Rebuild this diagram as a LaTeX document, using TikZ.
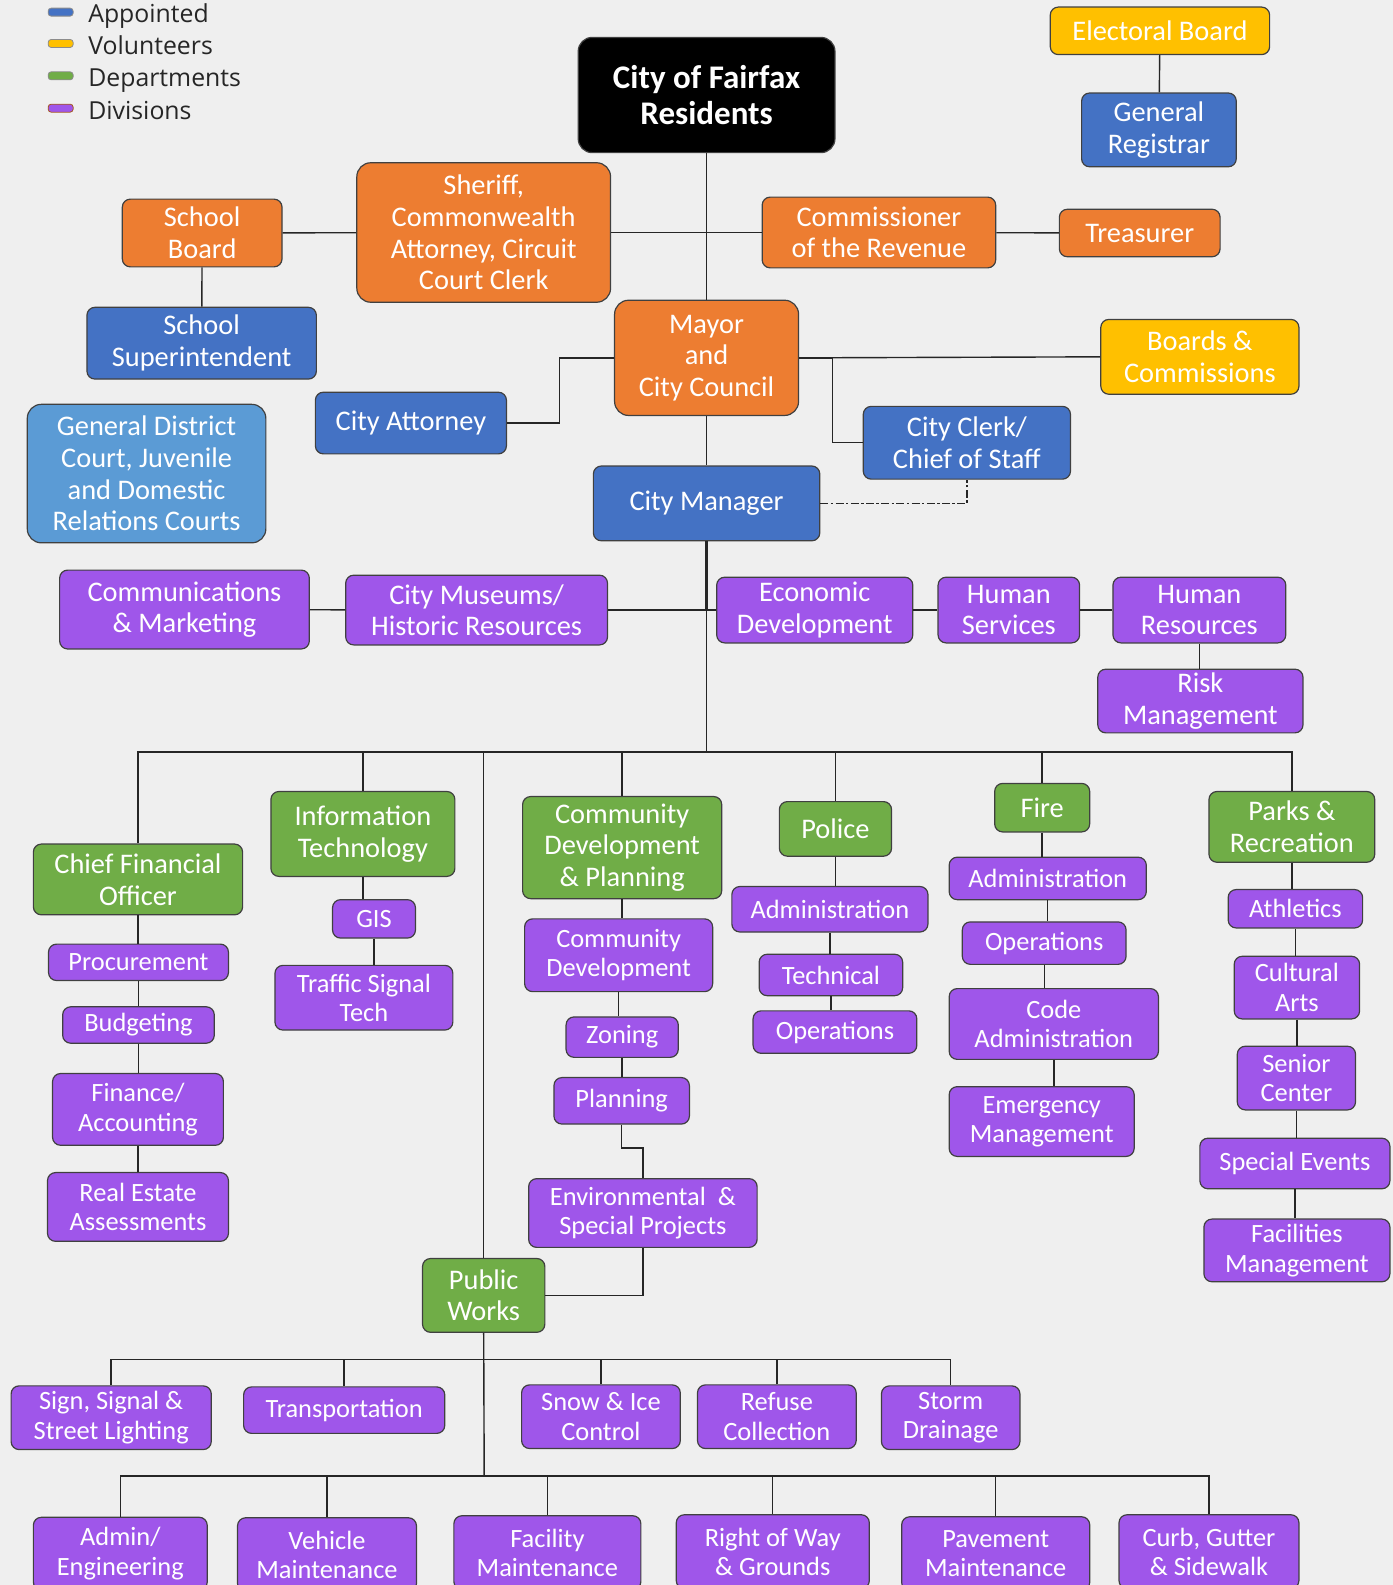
\documentclass[tikz,border=0pt]{standalone}
\usepackage{fontspec}
\setmainfont{Carlito}
\newfontfamily\legendfont{Open Sans}
\definecolor{bg}{HTML}{EFEFEF}
\definecolor{appointed}{HTML}{4472C4}
\definecolor{volunteer}{HTML}{FFC000}
\definecolor{dept}{HTML}{70AD47}
\definecolor{division}{HTML}{9F56EA}
\definecolor{elected}{HTML}{ED7D31}
\definecolor{court}{HTML}{5B9BD5}
\tikzset{
	box/.style={draw=black!75, line width=0.6pt, rounded corners=4pt, text=white, align=center, inner sep=0pt, font=\fontsize{14.2}{15.8}\selectfont},
	wh/.style 2 args={minimum width=#1*0.5054pt, minimum height=#2*0.5054pt},
	apptbox/.style={box, fill=appointed},
	volbox/.style={box, fill=volunteer},
	deptbox/.style={box, fill=dept},
	officebox/.style={box, fill=division},
	divbox/.style={box, fill=division, font=\fontsize{13.2}{14.7}\selectfont},
	elecbox/.style={box, fill=elected},
	courtbox/.style={box, fill=court},
	topbox/.style={box, fill=black, rounded corners=7pt, font=\fontsize{16.5}{18.2}\selectfont\bfseries},
	link/.style={draw=black!85, line width=0.7pt},
	legmark/.style={draw=black!45, line width=0.4pt, rounded corners=1.5pt, minimum width=12.5pt, minimum height=4pt, inner sep=0pt},
	legtext/.style={anchor=base west, inner sep=0pt, text=black!85, font=\legendfont\fontsize{12.4}{14}\selectfont},
}
\begin{document}
\begin{tikzpicture}[x=0.5054pt, y=-0.5054pt]
	\useasboundingbox[fill=bg] (0,0) rectangle (1378,1568);
	\clip (0,0) rectangle (1378,1568);

	\node[legmark, fill=appointed] (lgA) at (60,12) {};
	\node[legmark, fill=volunteer] (lgV) at (60,43) {};
	\node[legmark, fill=dept] (lgD) at (60,75) {};
	\node[legmark, fill=division, draw=elected!70!black] (lgP) at (60,107) {};
	\node[legtext] (lgAt) at (87,22) {Appointed};
	\node[legtext] (lgVt) at (87,54) {Volunteers};
	\node[legtext] (lgDt) at (87,86) {Departments};
	\node[legtext] (lgPt) at (87,118) {Divisions};

	\node[topbox, wh={254}{114}] (res) at (699,94) {City of Fairfax\\Residents};
	\node[volbox, wh={217}{47}] (elect) at (1147.5,30.5) {Electoral Board};
	\node[apptbox, wh={153}{73}] (genreg) at (1146.5,128.5) {General\\Registrar};
	\node[elecbox, wh={158}{67}] (schbd) at (200,230.5) {School\\Board};
	\node[elecbox, wh={251}{138}, rounded corners=7pt] (sheriff) at (478.5,230) {Sheriff,\\Commonwealth\\Attorney, Circuit\\Court Clerk};
	\node[elecbox, wh={231}{70}] (comrev) at (869.5,230) {Commissioner\\of the Revenue};
	\node[elecbox, wh={159}{47}] (treas) at (1127.5,230.5) {Treasurer};
	\node[apptbox, wh={227}{71}] (schsup) at (199.5,339.5) {School\\Superintendent};
	\node[elecbox, wh={182}{114}, rounded corners=7pt] (mayor) at (699,354) {Mayor\\and\\City Council};
	\node[volbox, wh={196}{74}] (boards) at (1187,353) {Boards \&\\Commissions};
	\node[apptbox, wh={189}{61}] (cityatt) at (406.5,418.5) {City Attorney};
	\node[apptbox, wh={205}{72}] (clerk) at (956.5,438) {City Clerk/\\Chief of Staff};
	\node[courtbox, wh={236}{137}, rounded corners=7pt] (courts) at (145,468.5) {General District\\Court, Juvenile\\and Domestic\\Relations Courts};
	\node[apptbox, wh={224}{74}] (mgr) at (699,498) {City Manager};

	\node[officebox, wh={247}{78}] (comms) at (182.5,603) {Communications\\\& Marketing};
	\node[officebox, wh={259}{69}] (museums) at (471.5,603.5) {City Museums/\\Historic Resources};
	\node[officebox, wh={194}{65}] (econ) at (806,603.5) {Economic\\Development};
	\node[officebox, wh={140}{65}] (humsvc) at (998,603.5) {Human\\Services};
	\node[officebox, wh={171}{65}] (humres) at (1186.5,603.5) {Human\\Resources};
	\node[officebox, wh={203}{63}] (risk) at (1187.5,693.5) {Risk\\Management};

	\node[deptbox, wh={207}{70}] (cfo) at (136.5,870) {Chief Financial\\Officer};
	\node[divbox, wh={178}{36}] (proc) at (137,952) {Procurement};
	\node[divbox, wh={150}{36}] (budg) at (137,1014) {Budgeting};
	\node[divbox, wh={169}{71}] (fin) at (136.5,1097.5) {Finance/\\Accounting};
	\node[divbox, wh={179}{68}] (realest) at (136.5,1194) {Real Estate\\Assessments};

	\node[deptbox, wh={182}{84}] (it) at (359,825) {Information\\Technology};
	\node[divbox, wh={82}{38}] (gis) at (370,909) {GIS};
	\node[divbox, wh={176}{64}] (traffic) at (360,987) {Traffic Signal\\Tech};

	\node[deptbox, wh={197}{101}] (cdp) at (615.5,838.5) {Community\\Development\\\& Planning};
	\node[divbox, wh={186}{72}] (comdev) at (612,945) {Community\\Development};
	\node[divbox, wh={111}{40}] (zoning) at (615.5,1026) {Zoning};
	\node[divbox, wh={134}{46}] (plan) at (615,1089) {Planning};
	\node[divbox, wh={226}{68}] (env) at (636,1200) {Environmental~~\&\\Special Projects};

	\node[deptbox, wh={111}{54}] (police) at (826.5,820) {Police};
	\node[divbox, wh={194}{45}] (padmin) at (821,899.5) {Administration};
	\node[divbox, wh={142}{41}] (tech) at (822,964.5) {Technical};
	\node[divbox, wh={162}{42}] (pops) at (826,1021) {Operations};

	\node[deptbox, wh={94}{48}] (fire) at (1031,799) {Fire};
	\node[divbox, wh={195}{42}] (fadmin) at (1036.5,869) {Administration};
	\node[divbox, wh={162}{42}] (fops) at (1033,933) {Operations};
	\node[divbox, wh={207}{70}] (code) at (1042.5,1013) {Code\\Administration};
	\node[divbox, wh={183}{69}] (emerg) at (1030.5,1109.5) {Emergency\\Management};

	\node[deptbox, wh={164}{70}] (parks) at (1278,818) {Parks \&\\Recreation};
	\node[divbox, wh={133}{38}] (athl) at (1281.5,899) {Athletics};
	\node[divbox, wh={124}{62}] (cult) at (1283,977) {Cultural\\Arts};
	\node[divbox, wh={117}{63}] (senior) at (1282.5,1066.5) {Senior\\Center};
	\node[divbox, wh={188}{50}] (spev) at (1281,1151) {Special Events};
	\node[divbox, wh={184}{62}] (facmgmt) at (1283,1237) {Facilities\\Management};

	\node[deptbox, wh={121}{73}] (pw) at (478.5,1281.5) {Public\\Works};
	\node[divbox, wh={198}{63}] (sign) at (110,1402.5) {Sign, Signal \&\\Street Lighting};
	\node[divbox, wh={199}{46}] (transp) at (340.5,1395) {Transportation};
	\node[divbox, wh={157}{63}] (snow) at (594.5,1401.5) {Snow \& Ice\\Control};
	\node[divbox, wh={157}{63}] (refuse) at (768.5,1401.5) {Refuse\\Collection};
	\node[divbox, wh={137}{63}] (storm) at (940.5,1402.5) {Storm\\Drainage};
	\node[divbox, wh={172}{72}] (adm) at (119,1537) {Admin/\\Engineering};
	\node[divbox, wh={177}{73}] (vehicle) at (323.5,1538) {Vehicle\\Maintenance};
	\node[divbox, wh={185}{73}] (facility) at (541.5,1536) {Facility\\Maintenance};
	\node[divbox, wh={191}{73}] (row) at (764.5,1535) {Right of Way\\\& Grounds};
	\node[divbox, wh={186}{73}] (pave) at (985,1537) {Pavement\\Maintenance};
	\node[divbox, wh={178}{73}] (curb) at (1196,1535) {Curb, Gutter\\\& Sidewalk};

	\coordinate (bus) at (699,744);
	\coordinate (bus2) at (479,1345);
	\coordinate (bus3) at (479,1460);

	\draw[link] (res) -- (mayor);
	\draw[link] (schbd) -- (sheriff);
	\draw[link] (sheriff) -- (comrev);
	\draw[link] (comrev) -- (treas);
	\draw[link] (schbd) -- (schsup);
	\draw[link] (elect) -- (genreg);
	\draw[link] (mayor) -- (mgr);
	\draw[link] (mayor.west) -- ++(-54,0) |- (cityatt.east);
	\draw[link] (mayor.east) -- (boards.west);
	\draw[link] (mayor.east) ++(33,0) |- (clerk.west);
	\draw[link, line width=1.2pt] (mayor.east) -- ++(33,0);
	\draw[link, dash pattern=on 4pt off 1.2pt on 1.2pt off 1.2pt] (mgr.east) -| (clerk.south);

	\draw[link, line width=1.4pt] (mgr.south) -- (mgr.south |- econ.west);
	\draw[link] (mgr.south |- econ.west) -- (bus);
	\draw[link] (comms) -- (museums);
	\draw[link] (museums) -- (econ);
	\draw[link, line width=1.4pt] (econ) -- (humsvc);
	\draw[link] (humsvc) -- (humres);

	\draw[link] (cfo.north) |- (bus) -| (parks.north);
	\foreach \n in {it,cdp,police,fire,pw}
		\draw[link] (\n.north) -- (\n.north |- bus);
	\foreach \a/\b in {cfo/proc,proc/budg,budg/fin,fin/realest,it/gis,gis/traffic,cdp/comdev,comdev/zoning,zoning/plan,police/padmin,padmin/tech,tech/pops,fire/fadmin,fadmin/fops,fops/code,code/emerg,parks/athl,athl/cult,cult/senior,senior/spev,spev/facmgmt,humres/risk}
		\draw[link] (\a.south) -- (\a.south |- \b.north);

	\draw[link] (plan.south) -- ++(0,23) -| (env.north);
	\draw[link] (env.south) |- (pw.east);
	\draw[link] (pw.south) -- (bus3);
	\draw[link] (sign.north) |- (bus2) -| (storm.north);
	\foreach \n in {transp,snow,refuse}
		\draw[link] (\n.north) -- (\n.north |- bus2);
	\draw[link] (adm.north) |- (bus3) -| (curb.north);
	\foreach \n in {vehicle,facility,row,pave}
		\draw[link] (\n.north) -- (\n.north |- bus3);
\end{tikzpicture}
\end{document}
